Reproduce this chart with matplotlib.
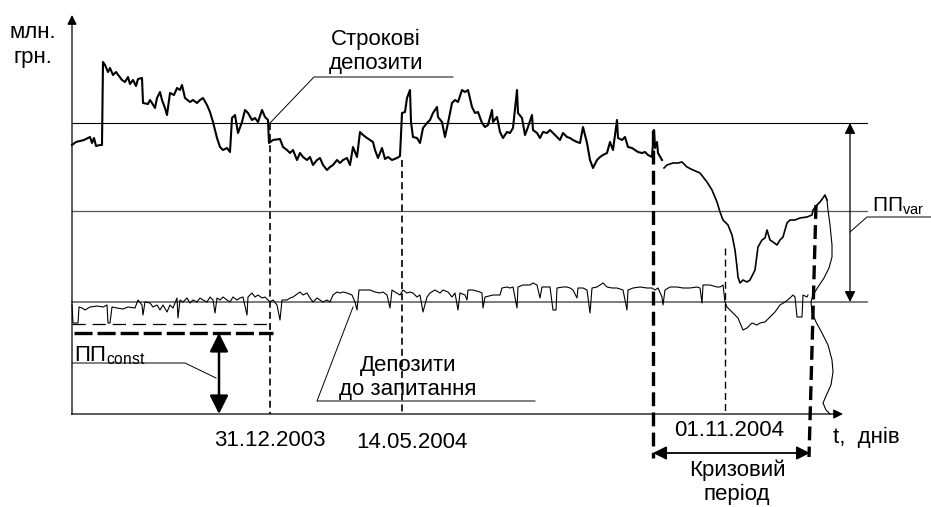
import numpy as np
import matplotlib
matplotlib.use("Agg")
import matplotlib.pyplot as plt

plt.rcParams['font.family'] = ['Liberation Sans', 'DejaVu Sans']
plt.rcParams['mathtext.fontset'] = 'custom'
plt.rcParams['mathtext.rm'] = 'Liberation Sans'
plt.rcParams['lines.scale_dashes'] = False
fs = 16

# строкові депозити (day, value)
term_t = [0, 4, 8, 12, 16, 18, 20, 22, 24, 28, 30, 31, 33, 36, 38, 41, 44, 47, 50, 53, 56, 58, 61, 64, 66, 70,
          71, 76, 78, 80, 83, 85, 88, 90, 93, 95, 98, 102, 105, 108, 110, 113, 118, 121, 125, 128, 131, 135,
          138, 141, 145, 148, 151, 155, 158, 160, 163, 166, 170, 173, 176, 180, 183, 186, 190, 193, 196, 197,
          201, 208, 211, 215, 218, 221, 225, 228, 231, 235, 238, 241, 245, 248, 251, 255, 258, 261, 265, 268,
          271, 275, 278, 281, 285, 288, 291, 295, 298, 301, 303, 306, 310, 313, 316, 320, 325, 328, 330, 333,
          335, 338, 339, 341, 345, 348, 351, 355, 358, 361, 365, 366, 370, 373, 376, 380, 383, 386, 390, 393,
          396, 400, 403, 406, 410, 413, 416, 420, 421, 425, 428, 431, 435, 438, 441, 445, 446, 450, 453, 456,
          460, 461, 465, 468, 471, 475, 478, 481, 485, 488, 491, 495, 498, 501, 505, 508, 511, 515, 518, 521,
          525, 528, 531, 535, 538, 541, 545, 546, 550, 553, 556, 560, 563, 566, 570, 573, 576, 580, 582, 583,
          585, 586, 590]
term_v = [269, 272, 273, 274, 276, 277, 271, 276, 268, 269, 269, 352, 349, 342, 346, 339, 342, 338, 334, 332,
          337, 330, 334, 328, 335, 336, 311, 310, 314, 311, 306, 316, 322, 314, 306, 299, 321, 319, 326, 324,
          329, 316, 312, 314, 311, 314, 316, 309, 302, 292, 276, 267, 264, 266, 262, 296, 299, 281, 292, 304,
          301, 294, 296, 292, 304, 297, 294, 271, 274, 275, 267, 264, 261, 264, 254, 261, 257, 254, 257, 249,
          254, 256, 249, 244, 247, 249, 254, 251, 254, 256, 249, 267, 257, 282, 279, 276, 274, 272, 264, 256,
          266, 255, 257, 254, 256, 258, 301, 302, 316, 324, 292, 277, 276, 271, 286, 291, 294, 301, 307, 297,
          292, 277, 291, 311, 314, 312, 324, 322, 324, 307, 301, 302, 291, 287, 289, 304, 292, 297, 282, 276,
          282, 281, 286, 324, 301, 296, 279, 287, 299, 284, 281, 276, 282, 281, 284, 281, 277, 274, 281, 277,
          276, 274, 272, 271, 287, 271, 254, 246, 254, 257, 259, 261, 272, 264, 294, 276, 274, 277, 267, 266,
          264, 262, 261, 262, 259, 257, 284, 266, 272, 261, 254]

# кризовий період
crisis_t = [592, 595, 601, 606, 610, 615, 621, 628, 635, 640, 645, 648, 651, 656, 660, 663, 665, 666, 668,
            671, 675, 678, 683, 686, 690, 693, 695, 698, 701, 705, 708, 711, 715, 718, 723, 728, 735, 740,
            741, 745, 748, 751, 753, 755]
crisis_v = [246, 249, 251, 251, 252, 247, 244, 241, 232, 224, 212, 202, 194, 189, 179, 164, 147, 137, 131,
            134, 132, 134, 144, 167, 174, 176, 184, 174, 172, 169, 174, 177, 191, 194, 194, 196, 197, 199,
            204, 209, 212, 216, 219, 214]

# розподіл (права крива)
dist_t = [755, 756, 758, 760, 760, 757, 752, 746, 741, 739, 740, 744, 750, 756, 760, 761, 759, 754, 751, 754, 758]
dist_v = [214, 204, 189, 169, 157, 146, 136, 127, 119, 112, 102, 92, 81, 69, 54, 42, 29, 18, 11, 4, 0]

# депозити до запитання
dem_t = [0, 1, 6, 7, 10, 13, 18, 25, 31, 35, 36, 38, 40, 45, 51, 56, 63, 66, 70, 71, 73, 78, 81, 85, 88, 91,
         95, 98, 101, 105, 106, 108, 111, 115, 118, 121, 125, 128, 131, 135, 138, 141, 143, 145, 148, 151, 155,
         158, 161, 165, 168, 171, 175, 176, 180, 183, 186, 190, 193, 196, 198, 201, 205, 208, 210, 215, 218,
         221, 228, 231, 235, 238, 241, 245, 248, 251, 255, 258, 261, 265, 268, 271, 275, 280, 283, 285, 287,
         291, 298, 303, 308, 311, 315, 318, 320, 323, 328, 331, 335, 338, 341, 345, 348, 351, 355, 358, 363,
         368, 371, 376, 380, 383, 386, 388, 393, 395, 396, 401, 408, 410, 411, 413, 421, 428, 430, 435, 438,
         441, 445, 446, 451, 458, 461, 465, 468, 470, 478, 481, 484, 485, 491, 495, 498, 501, 505, 506, 511,
         515, 518, 520, 525, 531, 535, 540, 545, 551, 555, 556, 561, 568, 575, 580, 583, 586, 590, 591, 593,
         598, 605, 611, 618, 625, 628, 630, 631, 638, 645, 648, 651, 653, 655, 661, 666, 671, 675, 680, 685,
         688, 693, 698, 703, 708, 713, 718, 721, 723, 725, 730, 731, 735, 736]
dem_v = [109, 91, 91, 107, 106, 104, 107, 108, 107, 109, 91, 91, 107, 106, 105, 107, 106, 114, 109, 99, 112,
         111, 107, 109, 104, 109, 102, 109, 106, 116, 96, 114, 112, 116, 111, 114, 112, 116, 114, 112, 117,
         114, 101, 116, 114, 117, 114, 112, 117, 114, 116, 117, 99, 117, 121, 117, 119, 116, 117, 114, 112,
         114, 109, 94, 114, 114, 116, 117, 122, 119, 121, 116, 112, 116, 114, 112, 114, 112, 119, 122, 121,
         122, 121, 119, 112, 104, 124, 124, 124, 122, 121, 122, 119, 106, 124, 122, 119, 124, 121, 122, 121,
         117, 119, 102, 117, 121, 124, 121, 124, 122, 117, 121, 104, 121, 119, 114, 124, 124, 122, 121, 106,
         117, 119, 119, 126, 127, 126, 127, 106, 127, 129, 129, 131, 129, 116, 127, 127, 104, 104, 126, 127,
         127, 126, 124, 116, 126, 126, 124, 101, 126, 127, 131, 127, 126, 126, 124, 104, 124, 126, 127, 126,
         126, 124, 126, 117, 109, 124, 127, 127, 126, 126, 127, 126, 111, 129, 129, 127, 127, 129, 112, 107,
         101, 96, 84, 86, 91, 89, 91, 92, 97, 102, 109, 112, 116, 119, 117, 97, 97, 119, 117, 119]

levels = [291, 203, 112]
dates = ["31.12.2003", "14.05.2004", "01.11.2004"]
date_t = [198, 330, 653]

fig = plt.figure(figsize=(9.31, 5.07), dpi=100)
ax = fig.add_axes([0, 0, 1, 1])
ax.set_xlim(-72, 859)
ax.set_ylim(-93, 414)
ax.axis("off")

# axes
ax.annotate("", xy=(0, 399), xytext=(0, -0.5),
            arrowprops=dict(arrowstyle="-|>", lw=0.9, color="k", mutation_scale=14, shrinkA=0, shrinkB=0))
ax.annotate("", xy=(771, 0), xytext=(-0.5, 0),
            arrowprops=dict(arrowstyle="-|>", lw=0.9, color="k", mutation_scale=14, shrinkA=0, shrinkB=0))

# levels
ax.plot([0, 795], [levels[0]] * 2, color="k", lw=0.8)
ax.plot([0, 795], [levels[1]] * 2, color="#555555", lw=0.9)
ax.plot([0, 795], [levels[2]] * 2, color="#666666", lw=1.2)

# series
ax.plot(term_t, term_v, color="k", lw=1.5)
ax.plot(crisis_t, crisis_v, color="k", lw=1.2)
ax.plot(dist_t, dist_v, color="k", lw=0.8)
ax.plot(dem_t, dem_v, color="k", lw=0.8)

# dashed verticals
ax.plot([198, 198], [291, 0], color="k", lw=1.2, dashes=(5, 3))
ax.plot([330, 330], [254, 0], color="k", lw=1.2, dashes=(5, 3))
ax.plot([653, 653], [166, 0], color="k", lw=1.0, dashes=(5, 3))
ax.plot([581, 581], [284, -44], color="k", lw=2.4, dashes=(10, 4.5))
ax.plot([744, 737], [209, -43], color="k", lw=2.4, dashes=(10, 4.5))

# ПП const
ax.plot([0, 198], [90, 90], color="k", lw=0.9, dashes=(9.5, 5))
ax.plot([2, 201], [81, 81], color="k", lw=2.4, dashes=(13, 3.6))
ax.annotate("", xy=(147, 81), xytext=(147, 0),
            arrowprops=dict(arrowstyle="<|-|>", lw=1.8, color="k", mutation_scale=28, shrinkA=0, shrinkB=0))
ax.plot([0, 113, 144], [51, 51, 36], color="k", lw=0.7)
ax.text(2, 53, "ПП$_{\\mathrm{const}}$", fontsize=fs, ha="left", va="baseline")

# ПП var
ax.annotate("", xy=(778, 291), xytext=(778, 112),
            arrowprops=dict(arrowstyle="<|-|>", lw=0.9, color="k", mutation_scale=16, shrinkA=0, shrinkB=0))
ax.plot([778, 795, 859], [182, 197, 197], color="k", lw=0.7)
ax.text(800, 203, "ПП$_{\\mathrm{var}}$", fontsize=15, ha="left", va="baseline")

# crisis
ax.annotate("", xy=(581, -39), xytext=(738, -39),
            arrowprops=dict(arrowstyle="<|-|>", lw=1.3, color="k", mutation_scale=20, shrinkA=0, shrinkB=0))
ax.text(665, -56, "Кризовий", fontsize=fs, ha="center", va="center")
ax.text(665, -80, "період", fontsize=fs, ha="center", va="center")

# leaders and labels
ax.plot([198, 242, 381], [291, 337, 337], color="k", lw=0.7)
ax.text(304, 375, "Строкові", fontsize=fs, ha="center", va="center")
ax.text(304, 350, "депозити", fontsize=fs, ha="center", va="center")

ax.plot([281, 245, 463], [107, 13, 13], color="k", lw=0.7)
ax.text(336, 49, "Депозити", fontsize=fs, ha="center", va="center")
ax.text(336, 24, "до запитання", fontsize=fs, ha="center", va="center")

ax.text(-39, 381, "млн.", fontsize=fs, ha="center", va="center")
ax.text(-39, 356, "грн.", fontsize=fs, ha="center", va="center")

ax.text(date_t[0], -27, dates[0], fontsize=fs, ha="center", va="center")
ax.text(date_t[1] + 10, -28, dates[1], fontsize=fs, ha="center", va="center")
ax.text(date_t[2] + 4, -16, dates[2], fontsize=fs, ha="center", va="center")
ax.text(761, -23, "t,  днів", fontsize=fs, ha="left", va="center")

fig.savefig("out.png", dpi=100)
